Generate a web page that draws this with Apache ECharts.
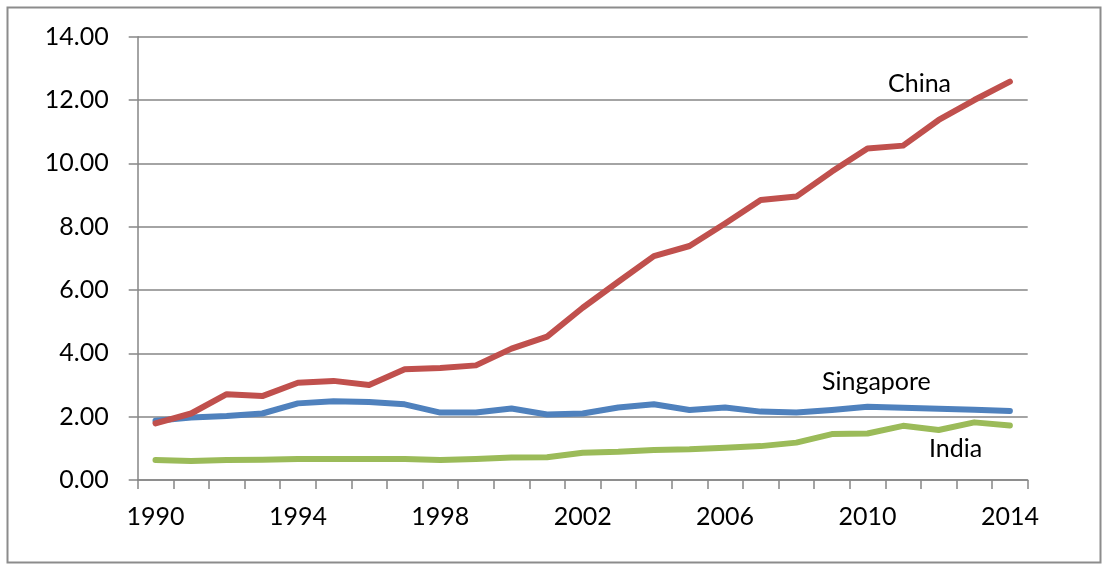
<!DOCTYPE html>
<html>
<head>
<meta charset="utf-8">
<script src="https://cdn.jsdelivr.net/npm/echarts@6/dist/echarts.min.js"></script>
<style>
html,body{margin:0;padding:0;background:#fff;}
#chart{width:1109px;height:571px;}
</style>
</head>
<body>
<div id="chart"></div>
<script>
const years = ['1990','1991','1992','1993','1994','1995','1996','1997','1998','1999','2000','2001','2002','2003','2004','2005','2006','2007','2008','2009','2010','2011','2012','2013','2014'];
const china = [1.79,2.10,2.71,2.65,3.07,3.13,3.00,3.50,3.54,3.62,4.15,4.53,5.44,6.26,7.07,7.39,8.10,8.84,8.95,9.74,10.47,10.56,11.37,12.00,12.58];
const singapore = [1.87,1.97,2.02,2.10,2.42,2.49,2.46,2.39,2.13,2.13,2.26,2.07,2.10,2.29,2.39,2.21,2.29,2.16,2.13,2.21,2.31,2.28,2.25,2.22,2.18];
const india = [0.63,0.60,0.63,0.64,0.66,0.66,0.66,0.66,0.63,0.66,0.71,0.72,0.86,0.89,0.95,0.97,1.02,1.07,1.18,1.45,1.47,1.71,1.58,1.82,1.72];
const yTicks = [0,2,4,6,8,10,12,14];

const FONT = 'Lato';
const axisGray = '#868686';
const chart = echarts.init(document.getElementById('chart'));
function mkLine(name, data, color){
  return {name, type:'line', data, symbol:'none', smooth:false,
    lineStyle:{color, width:6, cap:'round', join:'round'}, itemStyle:{color}, z:3};
}
chart.setOption({
  animation:false,
  backgroundColor:'#fff',
  textStyle:{fontFamily:FONT},
  grid:{left:137.7, right:81.3, top:36.7, bottom:91, containLabel:false},
  xAxis:{type:'category', data:years, boundaryGap:true,
    axisLine:{lineStyle:{color:axisGray, width:1.5}},
    axisTick:{show:true, interval:0, length:9, lineStyle:{color:axisGray, width:1.5}},
    axisLabel:{interval:3, color:'#000', fontSize:25, fontFamily:FONT, margin:24},
    splitLine:{show:false}},
  yAxis:{type:'value', min:yTicks[0], max:yTicks[yTicks.length-1], interval:2,
    axisLine:{show:true, lineStyle:{color:axisGray, width:1.5}},
    axisTick:{show:true, length:9, lineStyle:{color:axisGray, width:1.5}},
    axisLabel:{color:'#000', fontSize:25, fontFamily:FONT, margin:29, formatter:v=>v.toFixed(2)},
    splitLine:{show:true, lineStyle:{color:axisGray, width:1.5}}},
  series:[
    mkLine('Singapore', singapore, '#4F81BD'),
    mkLine('India', india, '#9BBB59'),
    mkLine('China', china, '#C0504D')
  ],
  graphic:[
    {type:'rect', shape:{x:7.5, y:7.5, width:1093, height:555}, style:{fill:'none', stroke:'#8c8c8c', lineWidth:2}, silent:true},
    {type:'text', left:888, top:71, style:{text:'China', font:'25px '+FONT, fill:'#000'}},
    {type:'text', left:822, top:369, style:{text:'Singapore', font:'25px '+FONT, fill:'#000'}},
    {type:'text', left:929, top:436, style:{text:'India', font:'25px '+FONT, fill:'#000'}}
  ]
});
</script>
</body>
</html>
